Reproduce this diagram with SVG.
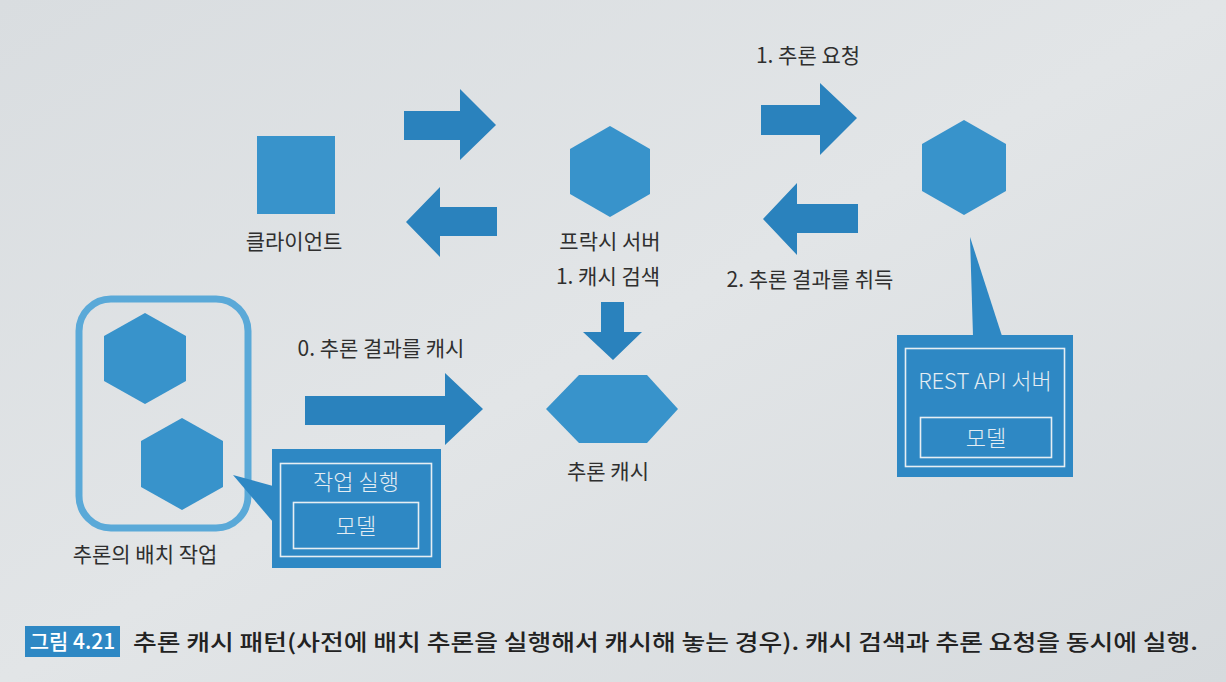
<svg xmlns="http://www.w3.org/2000/svg" width="1226" height="682" viewBox="0 0 1226 682">
<defs>
<linearGradient id="bg" x1="0" y1="0" x2="1" y2="1">
<stop offset="0" stop-color="#d9dde0"/>
<stop offset="0.5" stop-color="#e2e5e7"/>
<stop offset="1" stop-color="#d6dadd"/>
</linearGradient>
</defs>
<style>
.shape{fill:#3893cb}
.arrow{fill:#2a82bd}
.box{fill:#2e88c4}
.inner{fill:none;stroke:#e6eef3;stroke-width:1.6}
.lbl{font-family:"Noto Sans CJK KR","Noto Sans",sans-serif;font-size:21px;fill:#2f2f2f;text-anchor:middle}
.wlbl{font-family:"Noto Sans CJK KR","Noto Sans",sans-serif;font-size:22px;font-weight:300;fill:#e4edf3;text-anchor:middle}
.cap{font-family:"Noto Sans CJK KR","Noto Sans",sans-serif;font-size:22px;font-weight:500;fill:#222}
</style>
<rect x="0" y="0" width="1226" height="682" fill="url(#bg)"/>

<g id="connectors">
<polygon class="arrow" points="404,111 460,111 460,89 496,125 460,160 460,140 404,140"/>
<polygon class="arrow" points="497,207 440,207 440,187 406,222 440,257 440,236 497,236"/>
<polygon class="arrow" points="761,105 820,105 820,83 857,118 820,155 820,135 761,135"/>
<polygon class="arrow" points="858,204 797,204 797,183 763,219 797,255 797,233 858,233"/>
<polygon class="arrow" points="305,396 445,396 445,373 483,409 445,445 445,425 305,425"/>
<polygon class="arrow" points="601,302 624,302 624,332 642,332 613,360 583,332 601,332"/>
<text class="lbl" x="808" y="63">1. 추론 요청</text>
<text class="lbl" x="810" y="287">2. 추론 결과를 취득</text>
<text class="lbl" x="381" y="356">0. 추론 결과를 캐시</text>
<text class="lbl" x="608" y="284">1. 캐시 검색</text>
</g>

<g id="client">
<rect class="shape" x="257" y="136" width="78" height="78"/>
<text class="lbl" x="294" y="249">클라이언트</text>
</g>

<g id="proxy">
<polygon class="shape" points="610,126 650,149 650,194 610,217 570,194 570,149"/>
<text class="lbl" x="610" y="249">프락시 서버</text>
</g>

<g id="rest-server">
<polygon class="shape" points="964,120 1006,144 1006,191 964,215 922,191 922,144"/>
<polygon class="box" points="970,237 973,336 1002,336"/>
<rect class="box" x="897" y="335" width="176" height="142"/>
<rect class="inner" x="905.5" y="348.5" width="159" height="118"/>
<text class="wlbl" x="985" y="389">REST API 서버</text>
<rect class="inner" x="920.5" y="417.5" width="131" height="40"/>
<text class="wlbl" x="986" y="446">모델</text>
</g>

<g id="batch-job">
<rect x="79" y="299" width="169" height="229" rx="32" fill="none" stroke="#5aa9d8" stroke-width="7"/>
<polygon class="shape" points="145,313 186,336 186,381 145,404 104,381 104,336"/>
<polygon class="shape" points="182,418 223,441 223,487 182,510 141,487 141,441"/>
<text class="lbl" x="145" y="562">추론의 배치 작업</text>
</g>

<g id="job-run">
<polygon class="box" points="233,475 273,486 273,522"/>
<rect class="box" x="272" y="449" width="169" height="119"/>
<rect class="inner" x="280.5" y="463.5" width="151" height="93"/>
<text class="wlbl" x="356" y="490">작업 실행</text>
<rect class="inner" x="293.5" y="502.5" width="125" height="46"/>
<text class="wlbl" x="356" y="534">모델</text>
</g>

<g id="cache">
<polygon class="shape" points="546,409 579,375 647,375 678,409 647,443 579,443"/>
<text class="lbl" x="608" y="479">추론 캐시</text>
</g>

<g id="caption">
<rect x="25" y="626" width="95" height="31" fill="#2e88c4"/>
<text x="72.5" y="649" text-anchor="middle" font-family="'Noto Sans CJK KR','Noto Sans',sans-serif" font-size="21" font-weight="500" fill="#ffffff">그림 4.21</text>
<text class="cap" x="133" y="650" textLength="1065" lengthAdjust="spacingAndGlyphs">추론 캐시 패턴(사전에 배치 추론을 실행해서 캐시해 놓는 경우). 캐시 검색과 추론 요청을 동시에 실행.</text>
</g>
</svg>
